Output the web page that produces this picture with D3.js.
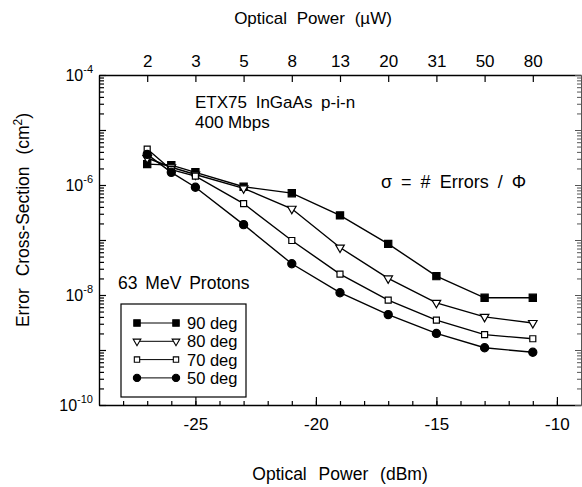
<!DOCTYPE html>
<html>
<head>
<meta charset="utf-8">
<script src="https://cdn.jsdelivr.net/npm/d3@7"></script>
<style>
  body { margin: 0; background: #fff; }
  svg { font-family: "Liberation Sans", Arial, sans-serif; }
</style>
</head>
<body>
<div id="chart"></div>
<script>
// data
var powerDbm = [-27, -26, -25, -23, -21, -19, -17, -15, -13, -11];
var sigma90 = [2.4e-6, 2.3e-6, 1.7e-6, 9.3e-7, 7.1e-7, 2.8e-7, 8.5e-8, 2.2e-8, 8.9e-9, 8.9e-9];
var sigma80 = [3.1e-6, 2.1e-6, 1.55e-6, 8.7e-7, 3.7e-7, 7.3e-8, 2.0e-8, 7.2e-9, 4.0e-9, 3.1e-9];
var sigma70 = [4.5e-6, 1.9e-6, 1.45e-6, 4.6e-7, 9.8e-8, 2.4e-8, 8.1e-9, 3.5e-9, 1.9e-9, 1.6e-9];
var sigma50 = [3.6e-6, 1.7e-6, 9.1e-7, 1.9e-7, 3.7e-8, 1.1e-8, 4.4e-9, 2.0e-9, 1.1e-9, 9.1e-10];
var seriesNames = ["90 deg", "80 deg", "70 deg", "50 deg"];

// top axis: microwatt labels placed at their dBm position
var topTickDbm = [-27, -25, -23, -21, -19, -17, -15, -13, -11];
var topTickLabels = ["2", "3", "5", "8", "13", "20", "31", "50", "80"];
var bottomTicks = [-25, -20, -15, -10];
var decadeExps = [-10, -8, -6, -4];

// settings
var svgWidth = 582;
var svgHeight = 487;
var plot = { left: 99, right: 581, top: 75, bottom: 405 };

var svg = d3.select("#chart").append("svg")
	.attr("width", svgWidth)
	.attr("height", svgHeight);

var x = d3.scaleLinear().domain([-29, -9]).range([plot.left, plot.right]);
var y = d3.scaleLog().domain([1e-10, 1e-4]).range([plot.bottom, plot.top]);

// minor log ticks 2..9 of each decade
var minorY = [];
for (var e = -10; e < -4; e++)
	for (var k = 2; k <= 9; k++) minorY.push(k * Math.pow(10, e));
var majorY = d3.range(-10, -3).map(e => Math.pow(10, e));

function styleAxis(g) {
	g.selectAll("path").attr("stroke", "#000").attr("stroke-width", 1.4);
	g.selectAll("line").attr("stroke", "#000").attr("stroke-width", 1.2);
	g.selectAll("text").attr("fill", "#000").attr("font-size", 17).attr("font-family", "Liberation Sans, Arial, sans-serif");
}

// bottom axis
svg.append("g")
	.attr("transform", `translate(0,${plot.bottom})`)
	.call(d3.axisBottom(x).tickValues(d3.range(-28, -9)).tickSizeInner(-4).tickSizeOuter(0).tickFormat(""))
	.call(styleAxis);
svg.append("g")
	.attr("transform", `translate(0,${plot.bottom})`)
	.call(d3.axisBottom(x).tickValues(bottomTicks).tickSizeInner(-8).tickSizeOuter(0).tickPadding(13)
		.tickFormat(d => String(d)))
	.call(styleAxis)
	.call(g => g.select("path").remove());

// top axis
svg.append("g")
	.attr("transform", `translate(0,${plot.top})`)
	.call(d3.axisTop(x).tickValues(topTickDbm).tickSizeInner(-7).tickSizeOuter(0).tickPadding(8)
		.tickFormat((d, i) => topTickLabels[i]))
	.call(styleAxis);

// left axis
svg.append("g")
	.attr("transform", `translate(${plot.left},0)`)
	.call(d3.axisLeft(y).tickValues(minorY).tickSizeInner(-5).tickSizeOuter(0).tickFormat(""))
	.call(styleAxis);
svg.append("g")
	.attr("transform", `translate(${plot.left},0)`)
	.call(d3.axisLeft(y).tickValues(majorY).tickSizeInner(-7).tickSizeOuter(0).tickFormat(""))
	.call(styleAxis)
	.call(g => g.select("path").remove());

// right axis (cut by the page edge in the original)
svg.append("g")
	.attr("transform", `translate(${plot.right},0)`)
	.call(d3.axisRight(y).tickValues(minorY).tickSizeInner(-4).tickSizeOuter(0).tickFormat(""))
	.call(styleAxis)
	.call(g => g.selectAll("path,line").attr("stroke", "#555").attr("stroke-width", 1));
svg.append("g")
	.attr("transform", `translate(${plot.right},0)`)
	.call(d3.axisRight(y).tickValues(majorY).tickSizeInner(-6).tickSizeOuter(0).tickFormat(""))
	.call(styleAxis)
	.call(g => g.select("path").remove())
	.call(g => g.selectAll("line").attr("stroke", "#555").attr("stroke-width", 1));

// decade labels 10^n
decadeExps.forEach(function (ex) {
	var t = svg.append("text")
		.attr("x", plot.left - 6)
		.attr("y", y(Math.pow(10, ex)) + 6)
		.attr("text-anchor", "end")
		.attr("font-size", 16);
	t.append("tspan").text("10");
	t.append("tspan").attr("dy", -8).attr("font-size", 11).text(String(ex));
});

// series
var series = [sigma90, sigma80, sigma70, sigma50];
var symbols = [
	{ type: d3.symbolSquare, size: 52, fill: "#000", rot: 0 },
	{ type: d3.symbolTriangle, size: 32, fill: "#fff", rot: 180 },
	{ type: d3.symbolSquare, size: 36, fill: "#fff", rot: 0 },
	{ type: d3.symbolCircle, size: 52, fill: "#000", rot: 0 }
];

var line = d3.line()
	.x(d => x(d[0]))
	.y(d => y(d[1]));

series.forEach(function (vals, s) {
	var pts = powerDbm.map((p, i) => [p, vals[i]]);
	svg.append("path")
		.datum(pts)
		.attr("d", line)
		.attr("fill", "none")
		.attr("stroke", "#000")
		.attr("stroke-width", 1.4);
	svg.append("g").selectAll("path")
		.data(pts)
		.enter()
		.append("path")
		.attr("d", d3.symbol().type(symbols[s].type).size(symbols[s].size))
		.attr("transform", d => `translate(${x(d[0])},${y(d[1])}) rotate(${symbols[s].rot})`)
		.attr("fill", symbols[s].fill)
		.attr("stroke", "#000")
		.attr("stroke-width", 1.2);
});

// legend
var legend = svg.append("g");
legend.append("rect")
	.attr("x", 121).attr("y", 304)
	.attr("width", 125).attr("height", 93)
	.attr("fill", "#fff").attr("stroke", "#000").attr("stroke-width", 1.2);
seriesNames.forEach(function (name, s) {
	var ly = 323 + s * 18.3;
	legend.append("line")
		.attr("x1", 137).attr("x2", 176)
		.attr("y1", ly).attr("y2", ly)
		.attr("stroke", "#000").attr("stroke-width", 1);
	[137, 176].forEach(function (lx) {
		legend.append("path")
			.attr("d", d3.symbol().type(symbols[s].type).size(symbols[s].size * 0.8)())
			.attr("transform", `translate(${lx},${ly}) rotate(${symbols[s].rot})`)
			.attr("fill", symbols[s].fill)
			.attr("stroke", "#000")
			.attr("stroke-width", 1.1);
	});
	legend.append("text")
		.attr("x", 187).attr("y", ly + 6)
		.attr("font-size", 16.5)
		.text(name);
});

// annotations
svg.append("text").attr("x", 195).attr("y", 108).attr("font-size", 17).attr("word-spacing", 4)
	.text("ETX75 InGaAs p-i-n");
svg.append("text").attr("x", 195).attr("y", 128).attr("font-size", 17)
	.text("400 Mbps");
svg.append("text").attr("x", 381).attr("y", 188).attr("font-size", 18).attr("word-spacing", 4)
	.text("σ = # Errors / Φ");
svg.append("text").attr("x", 118).attr("y", 289).attr("font-size", 17.5).attr("word-spacing", 3)
	.text("63 MeV Protons");

// axis titles
svg.append("text").attr("x", 313).attr("y", 24).attr("text-anchor", "middle")
	.attr("font-size", 17).attr("word-spacing", 5)
	.text("Optical Power (µW)");
svg.append("text").attr("x", 340).attr("y", 480).attr("text-anchor", "middle")
	.attr("font-size", 17.5).attr("word-spacing", 7)
	.text("Optical Power (dBm)");
var yTitle = svg.append("text")
	.attr("transform", `translate(29,220) rotate(-90)`)
	.attr("text-anchor", "middle")
	.attr("font-size", 17.5)
	.attr("word-spacing", 7);
yTitle.append("tspan").text("Error Cross-Section (cm");
yTitle.append("tspan").attr("dy", -7).attr("font-size", 12).text("2");
yTitle.append("tspan").attr("dy", 7).text(")");
</script>
</body>
</html>
